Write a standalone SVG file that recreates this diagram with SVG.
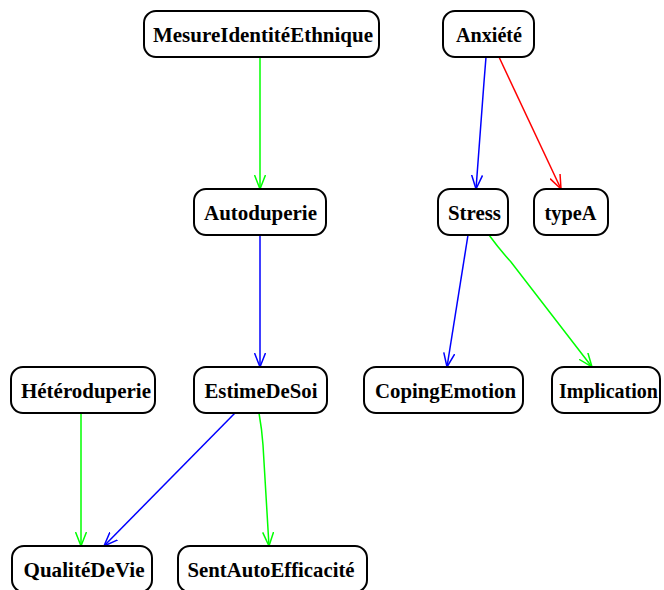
<svg xmlns="http://www.w3.org/2000/svg" width="664" height="590" viewBox="0 0 664 590">
<defs>
<style>
.n rect{fill:#fff;stroke:#000;stroke-width:2}
.n text{font-family:"Liberation Serif","Times New Roman",serif;font-weight:bold;font-size:22px;fill:#000}
.e path{fill:none;stroke-width:1.5}
.g{stroke:#00ff00}
.b{stroke:#0000ff}
.r{stroke:#ff0000}
</style>
<marker id="ag" markerUnits="userSpaceOnUse" markerWidth="16" markerHeight="12" refX="14" refY="6" orient="auto"><path d="M0,0.5 L14,6 L0,11.5" fill="none" stroke="#00ff00" stroke-width="1.5"/></marker>
<marker id="ab" markerUnits="userSpaceOnUse" markerWidth="16" markerHeight="12" refX="14" refY="6" orient="auto"><path d="M0,0.5 L14,6 L0,11.5" fill="none" stroke="#0000ff" stroke-width="1.5"/></marker>
<marker id="ar" markerUnits="userSpaceOnUse" markerWidth="16" markerHeight="12" refX="14" refY="6" orient="auto"><path d="M0,0.5 L14,6 L0,11.5" fill="none" stroke="#ff0000" stroke-width="1.5"/></marker>
</defs>
<rect width="664" height="590" fill="#fff"/>
<g id="edges" class="e">
<path class="g" d="M260,57 L260,189" marker-end="url(#ag)"/>
<path class="b" d="M486,57 Q485,70 484,82 L476,189" marker-end="url(#ab)"/>
<path class="r" d="M499,57 L561,189" marker-end="url(#ar)"/>
<path class="b" d="M260,235 L260,367" marker-end="url(#ab)"/>
<path class="b" d="M468,235 L447,367" marker-end="url(#ab)"/>
<path class="g" d="M489,235 Q500,250 511,262 L592,367" marker-end="url(#ag)"/>
<path class="g" d="M81,413 L81,546" marker-end="url(#ag)"/>
<path class="b" d="M235,413 L104,546" marker-end="url(#ab)"/>
<path class="g" d="M259,413 Q262,430 263,445 L269,546" marker-end="url(#ag)"/>
</g>
<g id="MesureIdentiteEthnique" class="n"><rect x="144" y="11" width="235" height="46" rx="12"/><text x="153" y="42" textLength="220" lengthAdjust="spacingAndGlyphs">MesureIdentitéEthnique</text></g>
<g id="Anxiete" class="n"><rect x="443" y="11" width="91" height="46" rx="12"/><text x="456" y="42" textLength="66" lengthAdjust="spacingAndGlyphs">Anxiété</text></g>
<g id="Autoduperie" class="n"><rect x="194" y="189" width="132" height="46" rx="12"/><text x="204" y="220" textLength="113" lengthAdjust="spacingAndGlyphs">Autoduperie</text></g>
<g id="Stress" class="n"><rect x="438" y="189" width="70" height="46" rx="12"/><text x="448" y="220" textLength="53" lengthAdjust="spacingAndGlyphs">Stress</text></g>
<g id="typeA" class="n"><rect x="534" y="189" width="74" height="46" rx="12"/><text x="544.5" y="220" textLength="52" lengthAdjust="spacingAndGlyphs">typeA</text></g>
<g id="Heteroduperie" class="n"><rect x="11" y="367" width="144" height="46" rx="12"/><text x="21" y="398" textLength="130" lengthAdjust="spacingAndGlyphs">Hétéroduperie</text></g>
<g id="EstimeDeSoi" class="n"><rect x="194" y="367" width="133" height="46" rx="12"/><text x="204.5" y="398" textLength="113" lengthAdjust="spacingAndGlyphs">EstimeDeSoi</text></g>
<g id="CopingEmotion" class="n"><rect x="364" y="367" width="159" height="46" rx="12"/><text x="375" y="398" textLength="141" lengthAdjust="spacingAndGlyphs">CopingEmotion</text></g>
<g id="Implication" class="n"><rect x="552" y="367" width="108" height="46" rx="12"/><text x="559" y="398" style="font-size:20px">Implication</text></g>
<g id="QualiteDeVie" class="n"><rect x="12" y="546" width="140" height="46" rx="12"/><text x="23.5" y="577" textLength="121" lengthAdjust="spacingAndGlyphs">QualitéDeVie</text></g>
<g id="SentAutoEfficacite" class="n"><rect x="178" y="546" width="189" height="46" rx="12"/><text x="187.5" y="577" textLength="167" lengthAdjust="spacingAndGlyphs">SentAutoEfficacité</text></g>
</svg>
